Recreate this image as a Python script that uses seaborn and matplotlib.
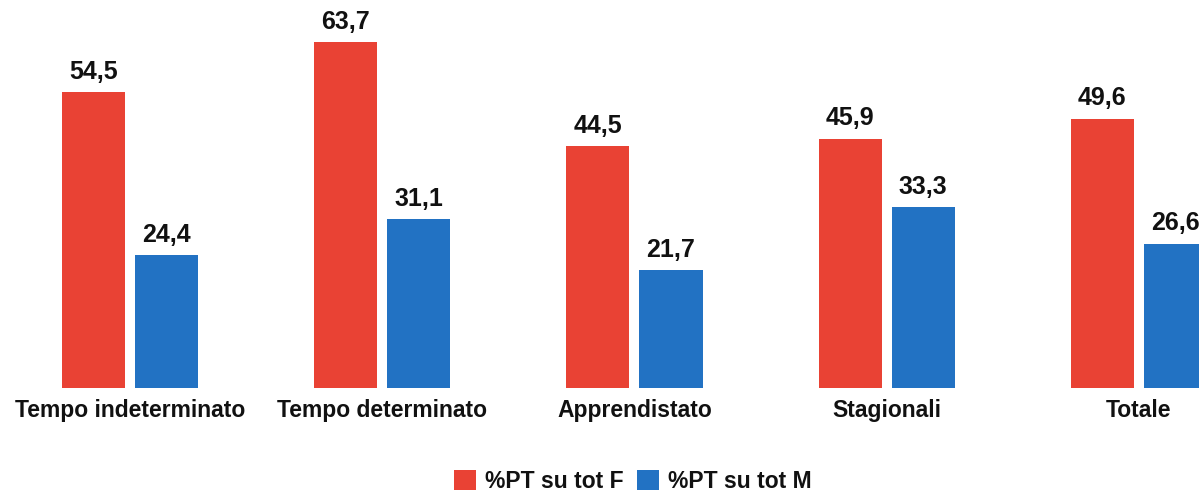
import pandas as pd
import matplotlib.pyplot as plt
import seaborn as sns

# dati
categorie = ["Tempo indeterminato", "Tempo determinato", "Apprendistato", "Stagionali", "Totale"]
pt_f = [54.5, 63.7, 44.5, 45.9, 49.6]
pt_m = [24.4, 31.1, 21.7, 33.3, 26.6]
serie = ["%PT su tot F", "%PT su tot M"]
colori = ["#E94234", "#2272C3"]

df = pd.DataFrame({
    "categoria": categorie * 2,
    "valore": pt_f + pt_m,
    "serie": [serie[0]] * len(categorie) + [serie[1]] * len(categorie),
})

sns.set_style("white")
plt.rcParams["font.family"] = ["Liberation Sans", "DejaVu Sans"]
plt.rcParams["font.weight"] = "bold"

fig = plt.figure(figsize=(11.99, 4.92), dpi=100)
ax = fig.add_axes([0, 0.2114, 1, 0.7886])

sns.barplot(data=df, x="categoria", y="valore", hue="serie", hue_order=serie,
            palette=colori, width=0.58, gap=0.137, saturation=1, linewidth=0, ax=ax)

for c in ax.containers:
    ax.bar_label(c, labels=[f"{v:.1f}".replace(".", ",") for v in c.datavalues],
                 padding=6, fontsize=18, fontweight="bold", color="#111111")

ax.set_xlim(-0.515, 4.238)
ax.set_ylim(0, 71.45)
ax.set_xlabel("")
ax.set_ylabel("")
ax.set_yticks([])
ax.tick_params(axis="x", length=0, pad=8, labelsize=16.5)
for lab in ax.get_xticklabels():
    lab.set_fontweight("bold")
    lab.set_color("#111111")
sns.despine(ax=ax, left=True, bottom=True, top=True, right=True)

ax.legend(loc="center", bbox_to_anchor=(0.528, 1 - 481 / 492), bbox_transform=fig.transFigure,
          ncol=2, frameon=False, fontsize=16.5, handlelength=0.95, handleheight=0.95,
          handletextpad=0.4, columnspacing=0.6, borderaxespad=0, borderpad=0)
for t in ax.get_legend().get_texts():
    t.set_fontweight("bold")
    t.set_color("#111111")

fig.savefig("out.png", dpi=100)
